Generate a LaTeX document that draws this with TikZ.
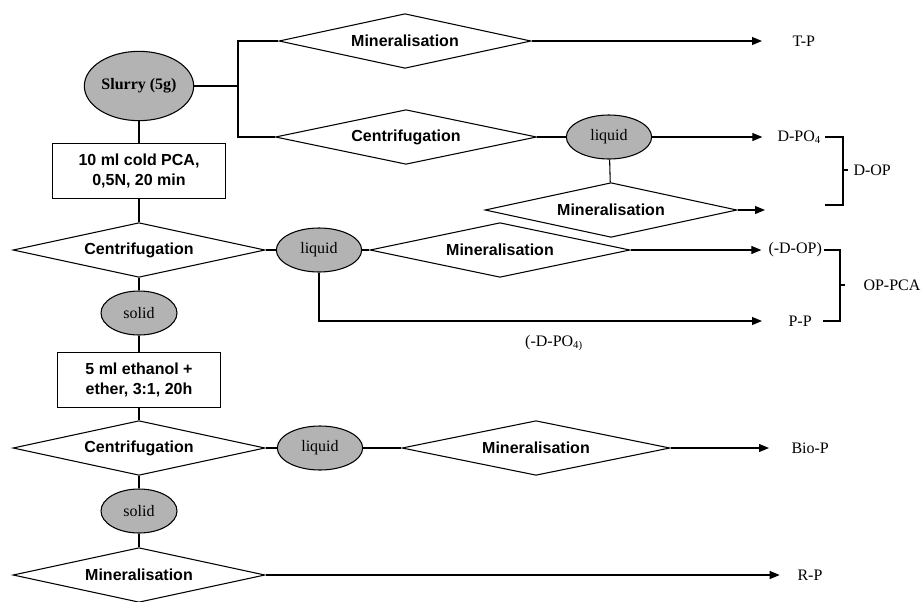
\documentclass[tikz,border=0pt]{standalone}
\usepackage{fontspec}
\setmainfont{Liberation Serif}
\setsansfont{Liberation Sans}
\usetikzlibrary{shapes.geometric,arrows.meta}
\definecolor{phasegray}{RGB}{179,179,179}

\begin{document}
\begin{tikzpicture}[x=0.75pt, y=-0.75pt, line width=0.8pt,
  proc/.style={draw, diamond, aspect=4.5, inner sep=0pt, minimum width=189pt, minimum height=41pt, font=\fontsize{12}{14}\selectfont\sffamily\bfseries},
  phase/.style={draw, ellipse, fill=phasegray, inner sep=0pt, minimum width=64pt, minimum height=33pt, font=\fontsize{12}{14}\selectfont},
  treat/.style={draw, rectangle, align=center, minimum height=41pt, inner sep=2pt, font=\fontsize{12}{15}\selectfont\sffamily\bfseries},
  result/.style={anchor=west, inner sep=0pt, font=\fontsize{12}{14}\selectfont},
  flow/.style={-{Triangle[length=7.5pt,width=6pt]}}]
\useasboundingbox (0,0) rectangle (922,601);

% main column
\node[phase, font=\fontsize{12}{14}\selectfont\bfseries, minimum width=82pt, minimum height=52pt] (slurry) at (139,86) {Slurry (5g)};
\node[treat, minimum width=130pt] (pca) at (139,171) {10 ml cold PCA,\\0,5N, 20 min};
\node[proc] (cfA) at (139,250) {Centrifugation};
\node[phase, minimum width=57pt] (solidA) at (139,313) {solid};
\node[treat, minimum width=122pt] (ether) at (139,380) {5 ml ethanol +\\ether, 3:1, 20h};
\node[proc] (cfB) at (139,448) {Centrifugation};
\node[phase, minimum width=57pt] (solidB) at (139,511) {solid};
\node[proc] (mrRes) at (139,575) {Mineralisation};

% direct branch
\coordinate (split) at (238,86);
\node[proc] (mrTot) at (405,41) {Mineralisation};
\node[proc, minimum width=196pt] (cfDis) at (406,137) {Centrifugation};
\node[phase] (liqDis) at (609,137) {liquid};
\node[proc] (mrDis) at (611,210) {Mineralisation};
\coordinate (dopEnd) at (765,210);

% PCA extract and bio fraction
\node[phase] (liqPCA) at (319,250) {liquid};
\node[proc, minimum width=195pt] (mrPCA) at (500,250) {Mineralisation};
\node[phase] (liqBio) at (320,448) {liquid};
\node[proc, minimum width=201pt] (mrBio) at (536,448) {Mineralisation};

% results
\node[result] (tp) at (792,41) {T-P};
\node[result] (dpo) at (777,137) {D-PO\textsubscript{4}};
\node[result] (dop) at (853,170) {D-OP};
\node[result] (mdop) at (768,250) {(-D-OP)};
\node[result] (opca) at (863,285) {OP-PCA};
\node[result] (pp) at (788,321) {P-P};
\node[inner sep=0pt, font=\fontsize{12}{14}\selectfont] (mdpo) at (554,343) {(-D-PO\textsubscript{4)}};
\node[result] (biop) at (791,448) {Bio-P};
\node[result] (rp) at (797,575) {R-P};

\draw (slurry) -- (pca);
\draw (pca) -- (cfA);
\draw (cfA) -- (solidA);
\draw (solidA) -- (ether);
\draw (ether) -- (cfB);
\draw (cfB) -- (solidB);
\draw (solidB) -- (mrRes);

\draw (slurry) -- (split);
\draw (mrTot.west) -| (split) |- (cfDis.west);
\draw (cfDis.east) -- (liqDis.west);
\draw (liqDis) -- (mrDis);
\draw[flow, shorten >=22.5pt] (mrTot.east) -- (tp.west);
\draw[flow, shorten >=11pt] (liqDis.east) -- (dpo.west);
\draw[flow] (mrDis.east) -- (dopEnd);

\draw (cfA.east) -- (liqPCA.west);
\draw (liqPCA.east) -- (mrPCA.west);
\draw[flow, shorten >=5pt] (mrPCA.east) -- (mdop.west);
\draw[flow, shorten >=19.5pt] (liqPCA.south) |- (pp.west);

\draw (cfB.east) -- (liqBio.west);
\draw (liqBio.east) -- (mrBio.west);
\draw[flow, shorten >=16.5pt] (mrBio.east) -- (biop.west);
\draw[flow, shorten >=13pt] (mrRes.east) -- (rp.west);

% brackets
\draw (825,137) -| (843,205) -- (825,205);
\draw (843,170) -- (848,170);
\draw (824,250) -| (840,321) -- (823,321);
\draw (840,285) -- (845,285);
\end{tikzpicture}
\end{document}
